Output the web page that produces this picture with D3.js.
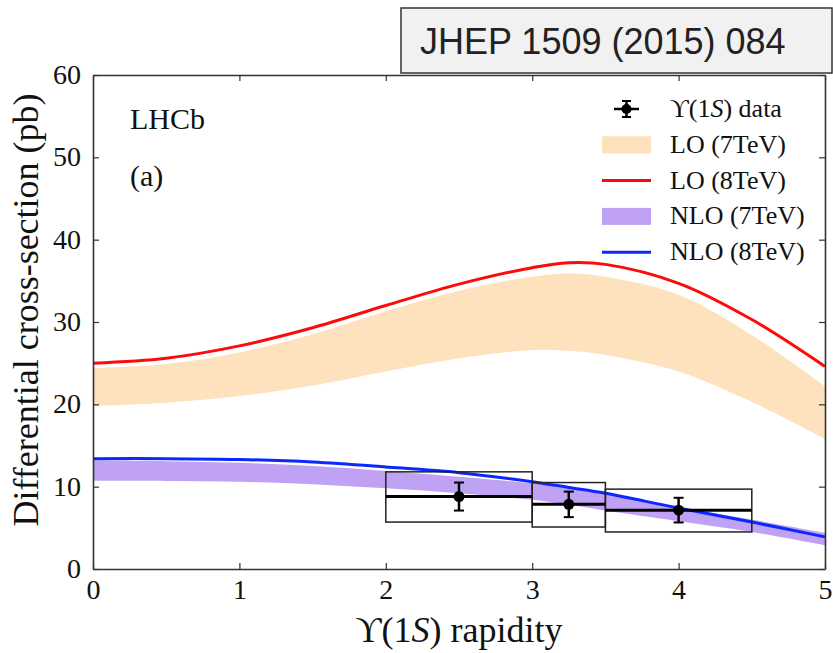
<!DOCTYPE html>
<html>
<head>
<meta charset="utf-8">
<script src="https://cdn.jsdelivr.net/npm/d3@7"></script>
<style>
body { margin: 0; background: #fff; }
svg { display: block; }
</style>
</head>
<body>
<svg width="833" height="653"></svg>
<script>
// rapidity grid for the theory curves
var rap = [0, 0.5, 1, 1.5, 2, 2.5, 3, 3.25, 3.5, 4, 4.5, 5];
var lo8 = [25.0, 25.6, 27.1, 29.3, 32.0, 34.6, 36.6, 37.2, 37.0, 34.7, 30.3, 24.6];
var lo7Hi = [24.4, 24.9, 26.3, 28.5, 31.3, 33.8, 35.5, 35.9, 35.5, 33.3, 28.4, 22.2];
var lo7Lo = [19.8, 20.2, 21.0, 22.3, 24.0, 25.6, 26.6, 26.5, 26.0, 24.0, 20.3, 15.8];
var nlo8 = [13.4, 13.4, 13.3, 13.0, 12.4, 11.7, 10.6, 9.9, 9.2, 7.4, 5.7, 3.9];
var nlo7Hi = [13.2, 13.1, 12.9, 12.5, 11.9, 11.2, 10.4, 9.8, 9.1, 7.5, 6.0, 4.4];
var nlo7Lo = [10.7, 10.7, 10.6, 10.3, 9.8, 9.2, 8.4, 7.8, 7.1, 5.8, 4.5, 2.9];

// LHCb data points
var dataX = [2.5, 3.25, 4];
var dataY = [8.8, 7.85, 7.15];
var statErr = [1.7, 1.55, 1.5];
var binLo = [2, 3, 3.5];
var binHi = [3, 3.5, 4.5];
var sysLo = [5.7, 5.1, 4.5];
var sysHi = [11.8, 10.5, 9.7];

var xTicks = [0, 1, 2, 3, 4, 5];
var yTicks = [0, 10, 20, 30, 40, 50, 60];

var svg = d3.select("svg");
var margin = {top: 75, left: 93};
var serif = "'Liberation Serif', 'Times New Roman', serif";
var ups = "\u03D2";

var xScale = d3.scaleLinear().domain([0, 5]).range([0, 732]);
var yScale = d3.scaleLinear().domain([0, 60]).range([494, 0]);

var g = svg.append("g").attr("transform", "translate(" + margin.left + "," + margin.top + ")");

var curve = d3.curveCatmullRom.alpha(0.5);
var band = function(hi, lo) {
  return d3.area()
    .x(function(d, i) { return xScale(rap[i]); })
    .y0(function(d, i) { return yScale(lo[i]); })
    .y1(function(d, i) { return yScale(hi[i]); })
    .curve(curve)(rap);
};
var line = function(vals) {
  return d3.line()
    .x(function(d, i) { return xScale(rap[i]); })
    .y(function(d, i) { return yScale(vals[i]); })
    .curve(curve)(rap);
};

var peach = "#fde2bd";
var lilac = "#c0a2f4";
var red = "#ff0a0a";
var blue = "#0a28ff";

g.append("path").attr("d", band(lo7Hi, lo7Lo)).attr("fill", peach);
g.append("path").attr("d", line(lo8)).attr("fill", "none").attr("stroke", red).attr("stroke-width", 3);
g.append("path").attr("d", band(nlo7Hi, nlo7Lo)).attr("fill", lilac);
g.append("path").attr("d", line(nlo8)).attr("fill", "none").attr("stroke", blue).attr("stroke-width", 3);

// systematic boxes
g.selectAll("rect.sys")
  .data(dataX)
  .enter()
  .append("rect")
  .attr("class", "sys")
  .attr("x", function(d, i) { return xScale(binLo[i]); })
  .attr("y", function(d, i) { return yScale(sysHi[i]); })
  .attr("width", function(d, i) { return xScale(binHi[i]) - xScale(binLo[i]); })
  .attr("height", function(d, i) { return yScale(sysLo[i]) - yScale(sysHi[i]); })
  .attr("fill", "none")
  .attr("stroke", "#222")
  .attr("stroke-width", 1.5);

g.selectAll("line.bin")
  .data(dataX)
  .enter()
  .append("line")
  .attr("x1", function(d, i) { return xScale(binLo[i]); })
  .attr("x2", function(d, i) { return xScale(binHi[i]); })
  .attr("y1", function(d, i) { return yScale(dataY[i]); })
  .attr("y2", function(d, i) { return yScale(dataY[i]); })
  .attr("stroke", "#000")
  .attr("stroke-width", 3);

g.selectAll("line.err")
  .data(dataX)
  .enter()
  .append("line")
  .attr("x1", function(d) { return xScale(d); })
  .attr("x2", function(d) { return xScale(d); })
  .attr("y1", function(d, i) { return yScale(dataY[i] + statErr[i]); })
  .attr("y2", function(d, i) { return yScale(dataY[i] - statErr[i]); })
  .attr("stroke", "#000")
  .attr("stroke-width", 2.5);

[1, -1].forEach(function(s) {
  g.selectAll(null)
    .data(dataX)
    .enter()
    .append("line")
    .attr("x1", function(d) { return xScale(d) - 5; })
    .attr("x2", function(d) { return xScale(d) + 5; })
    .attr("y1", function(d, i) { return yScale(dataY[i] + s * statErr[i]); })
    .attr("y2", function(d, i) { return yScale(dataY[i] + s * statErr[i]); })
    .attr("stroke", "#000")
    .attr("stroke-width", 2);
});

g.selectAll("circle.pt")
  .data(dataX)
  .enter()
  .append("circle")
  .attr("cx", function(d) { return xScale(d); })
  .attr("cy", function(d, i) { return yScale(dataY[i]); })
  .attr("r", 5.5)
  .attr("fill", "#000");

// axes, ticks inside on all four sides
var xAxis = d3.axisBottom(xScale).tickValues(xTicks).tickFormat(d3.format("d"))
  .tickSizeInner(-6).tickSizeOuter(0).tickPadding(10);
var yAxis = d3.axisLeft(yScale).tickValues(yTicks).tickFormat(d3.format("d"))
  .tickSizeInner(-6).tickSizeOuter(0).tickPadding(12);

var gx = g.append("g").attr("transform", "translate(0," + 494 + ")").call(xAxis);
var gy = g.append("g").call(yAxis);
var gt = g.append("g").call(d3.axisTop(xScale).tickValues(xTicks).tickSizeInner(-6).tickSizeOuter(0).tickFormat(""));
var gr = g.append("g").attr("transform", "translate(732,0)").call(d3.axisRight(yScale).tickValues(yTicks).tickSizeInner(-6).tickSizeOuter(0).tickFormat(""));

[gx, gy, gt, gr].forEach(function(a) {
  a.selectAll(".domain").attr("stroke", "#333").attr("stroke-width", 1.6);
  a.selectAll(".tick line").attr("stroke", "#333").attr("stroke-width", 1.2);
  a.selectAll("text").attr("font-family", serif).attr("font-size", "28px").attr("fill", "#111");
});
gx.selectAll(".tick text").attr("dy", "0.72em");
gy.selectAll(".tick text").attr("dy", "0.3em");

// axis labels
svg.append("text")
  .attr("transform", "translate(459,642)")
  .attr("text-anchor", "middle")
  .attr("font-family", serif)
  .attr("font-size", "36px")
  .attr("fill", "#111")
  .call(function(t) {
    t.append("tspan").text(ups + "(1");
    t.append("tspan").attr("font-style", "italic").text("S");
    t.append("tspan").text(") rapidity");
  });

svg.append("text")
  .attr("transform", "translate(38,310) rotate(-90)")
  .attr("text-anchor", "middle")
  .attr("font-family", serif)
  .attr("font-size", "36px")
  .attr("fill", "#111")
  .text("Differential cross-section (pb)");

svg.append("text").attr("x", 130).attr("y", 129)
  .attr("font-family", serif).attr("font-size", "30px").attr("fill", "#111").text("LHCb");
svg.append("text").attr("x", 130).attr("y", 186)
  .attr("font-family", serif).attr("font-size", "30px").attr("fill", "#111").text("(a)");

// legend
var legendNames = ["data", "LO (7TeV)", "LO (8TeV)", "NLO (7TeV)", "NLO (8TeV)"];
var legendKinds = ["pt", "band", "line", "band", "line"];
var legendColors = ["#000", peach, red, lilac, blue];
var lg = svg.append("g");
legendNames.forEach(function(name, i) {
  var y = 109 + i * 35.8;
  var kind = legendKinds[i];
  if (kind === "band") {
    lg.append("rect").attr("x", 602).attr("y", y - 8.5).attr("width", 49).attr("height", 17).attr("fill", legendColors[i]);
  } else if (kind === "line") {
    lg.append("line").attr("x1", 602).attr("x2", 651).attr("y1", y).attr("y2", y)
      .attr("stroke", legendColors[i]).attr("stroke-width", 3);
  } else {
    lg.append("line").attr("x1", 614).attr("x2", 639).attr("y1", y).attr("y2", y).attr("stroke", "#000").attr("stroke-width", 2.5);
    lg.append("line").attr("x1", 626.5).attr("x2", 626.5).attr("y1", y - 8).attr("y2", y + 8).attr("stroke", "#000").attr("stroke-width", 2.5);
    lg.append("line").attr("x1", 622).attr("x2", 631).attr("y1", y - 8).attr("y2", y - 8).attr("stroke", "#000").attr("stroke-width", 2);
    lg.append("line").attr("x1", 622).attr("x2", 631).attr("y1", y + 8).attr("y2", y + 8).attr("stroke", "#000").attr("stroke-width", 2);
    lg.append("circle").attr("cx", 626.5).attr("cy", y).attr("r", 5).attr("fill", "#000");
  }
  var t = lg.append("text").attr("x", 670).attr("y", y + 8)
    .attr("font-family", serif).attr("font-size", "26px").attr("fill", "#111");
  if (kind === "pt") {
    t.append("tspan").text(ups + "(1");
    t.append("tspan").attr("font-style", "italic").text("S");
    t.append("tspan").text(") data");
  } else {
    t.text(name);
  }
});

// journal reference box
svg.append("rect").attr("x", 401).attr("y", 8).attr("width", 431).attr("height", 65)
  .attr("fill", "#f1f1f1").attr("stroke", "#333").attr("stroke-width", 1.5);
svg.append("text").attr("x", 420).attr("y", 54)
  .attr("font-family", "'Liberation Sans', Arial, sans-serif").attr("font-size", "36px").attr("fill", "#222")
  .text("JHEP 1509 (2015) 084");
</script>
</body>
</html>
